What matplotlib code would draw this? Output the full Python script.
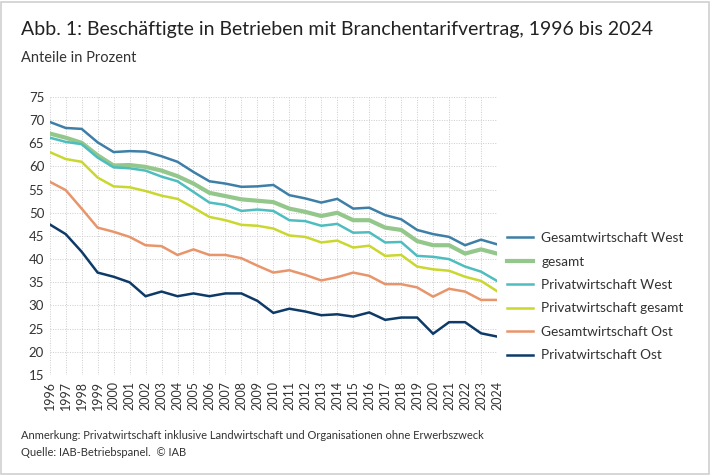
import matplotlib
matplotlib.use("Agg")
import matplotlib.pyplot as plt
from matplotlib.patches import Rectangle

plt.rcParams['font.family'] = ['Lato', 'DejaVu Sans']

years = list(range(1996, 2025))

gesamt_west = [69.6, 68.3, 68.1, 65.2, 63.1, 63.3, 63.2, 62.2, 61.0, 58.8, 56.8, 56.3, 55.6, 55.7, 56.0,
               53.8, 53.1, 52.2, 53.0, 50.9, 51.1, 49.5, 48.6, 46.3, 45.4, 44.8, 43.0, 44.2, 43.2]
gesamt = [67.1, 66.2, 65.1, 62.4, 60.2, 60.3, 59.9, 59.1, 57.9, 56.3, 54.3, 53.6, 52.9, 52.6, 52.3,
          50.9, 50.2, 49.3, 50.0, 48.4, 48.4, 46.8, 46.3, 43.9, 43.0, 43.0, 41.2, 42.1, 41.2]
privat_west = [66.2, 65.3, 64.8, 61.9, 59.8, 59.6, 59.1, 57.8, 56.8, 54.5, 52.2, 51.7, 50.4, 50.7, 50.4,
               48.4, 48.2, 47.2, 47.6, 45.7, 45.8, 43.6, 43.7, 40.7, 40.5, 40.0, 38.4, 37.3, 35.3]
privat_gesamt = [63.1, 61.6, 61.0, 57.6, 55.7, 55.5, 54.7, 53.7, 53.0, 51.1, 49.1, 48.4, 47.4, 47.2, 46.6,
                 45.1, 44.8, 43.6, 44.0, 42.5, 42.9, 40.7, 40.9, 38.4, 37.8, 37.5, 36.2, 35.3, 33.1]
gesamt_ost = [56.7, 54.9, 50.9, 46.8, 45.9, 44.8, 43.0, 42.8, 40.9, 42.1, 40.9, 40.9, 40.2, 38.6, 37.1,
              37.6, 36.6, 35.4, 36.1, 37.1, 36.4, 34.6, 34.6, 33.9, 31.9, 33.6, 33.0, 31.2, 31.2]
privat_ost = [47.5, 45.4, 41.6, 37.1, 36.2, 35.0, 32.0, 33.0, 32.0, 32.6, 32.0, 32.6, 32.6, 31.0, 28.4,
              29.3, 28.7, 27.9, 28.1, 27.6, 28.5, 26.9, 27.4, 27.4, 23.9, 26.4, 26.4, 24.0, 23.3]

series = [
    ("Gesamtwirtschaft West", gesamt_west, "#3d7fa6", 1.8),
    ("gesamt", gesamt, "#94c78c", 3.0),
    ("Privatwirtschaft West", privat_west, "#4dbdbf", 1.8),
    ("Privatwirtschaft gesamt", privat_gesamt, "#c9d72f", 1.8),
    ("Gesamtwirtschaft Ost", gesamt_ost, "#e8956b", 1.8),
    ("Privatwirtschaft Ost", privat_ost, "#0e3a68", 1.8),
]

fig = plt.figure(figsize=(7.1, 4.75), dpi=100)
ax = fig.add_axes([0.070, 0.2105, 0.630, 0.5855])

for label, vals, color, lw in series:
    ax.plot(years, vals, color=color, lw=lw, label=label, solid_joinstyle='miter')

ax.set_xlim(1996, 2024)
ax.set_ylim(15, 75)
ax.set_yticks(range(15, 76, 5))
ax.set_xticks(years)
ax.set_xticklabels([str(y) for y in years], rotation=90, fontsize=9, color="#333333")
ax.tick_params(axis='y', labelsize=9.5, colors="#333333")
ax.tick_params(length=0, pad=4)
ax.grid(True, color="#cccccc", linestyle=(0, (1, 1.5)), lw=0.7)
for s in ax.spines.values():
    s.set_visible(False)

leg = fig.legend(loc="upper left", bbox_to_anchor=(0.697, 0.537), frameon=False,
                 fontsize=9.8, handlelength=1.9, labelspacing=0.84, handletextpad=0.6,
                 labelcolor="#333333")

fig.text(0.029, 0.926, "Abb. 1: Beschäftigte in Betrieben mit Branchentarifvertrag, 1996 bis 2024",
         fontsize=14, color="#222222", va="baseline")
fig.text(0.029, 0.8695, "Anteile in Prozent", fontsize=10.5, color="#333333", va="baseline")
fig.text(0.029, 0.076, "Anmerkung: Privatwirtschaft inklusive Landwirtschaft und Organisationen ohne Erwerbszweck",
         fontsize=8, color="#333333", va="baseline")
fig.text(0.029, 0.040, "Quelle: IAB-Betriebspanel.  © IAB", fontsize=8, color="#333333", va="baseline")

fig.patches.append(Rectangle((0.002, 0.002), 0.996, 0.994, transform=fig.transFigure,
                             fill=False, edgecolor="#d0d0d0", lw=1.2))

fig.savefig("out.png", dpi=100)
